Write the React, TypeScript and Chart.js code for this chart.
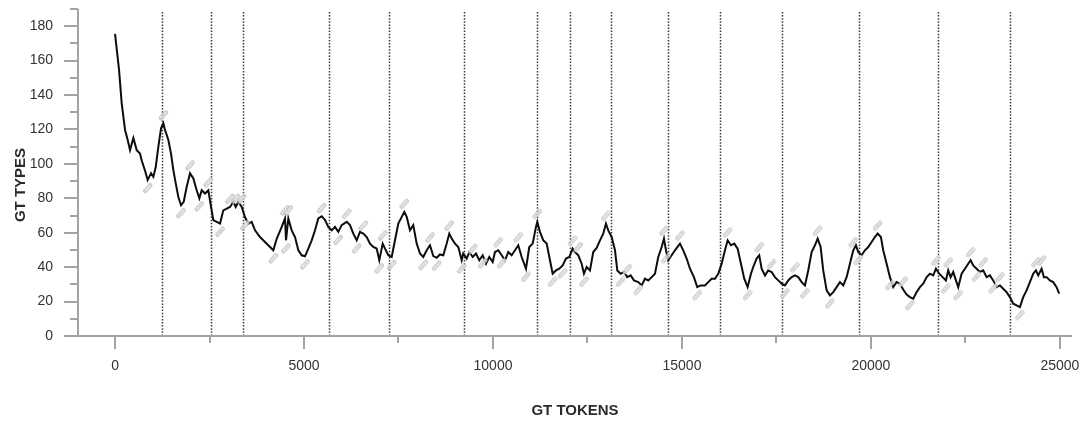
import React, { useEffect, useRef } from 'react';
import { Chart, registerables } from 'chart.js';

Chart.register(...registerables);

// Running count of GT types per window, sampled along the token axis
const tokens = [
  0, 106, 177, 265, 335, 397, 485, 573, 661, 705, 794, 864, 952, 1014, 1076, 1146, 1217, 1278, 1323, 1411,
  1481, 1543, 1605, 1675, 1746, 1817, 1896, 1984, 2072, 2161, 2231, 2293, 2381, 2469, 2540, 2601, 2690, 2778,
  2865, 2955, 3042, 3130, 3193, 3262, 3352, 3439, 3527, 3616, 3704, 3836, 3968, 4101, 4188, 4277, 4410, 4497,
  4524, 4585, 4674, 4762, 4850, 4939, 5026, 5114, 5203, 5291, 5378, 5468, 5556, 5643, 5733, 5820, 5907, 5997,
  6130, 6217, 6304, 6394, 6481, 6569, 6659, 6746, 6833, 6923, 6992, 7082, 7143, 7230, 7320, 7407, 7495, 7585,
  7653, 7717, 7804, 7891, 7981, 8069, 8156, 8246, 8333, 8421, 8510, 8598, 8685, 8775, 8844, 8907, 8995, 9082,
  9172, 9214, 9304, 9373, 9463, 9550, 9638, 9728, 9815, 9902, 9992, 10053, 10140, 10230, 10317, 10405, 10494,
  10582, 10669, 10759, 10873, 10960, 11050, 11137, 11172, 11243, 11331, 11420, 11508, 11579, 11667, 11754,
  11844, 11931, 12019, 12108, 12169, 12257, 12346, 12407, 12479, 12566, 12653, 12743, 12831, 12918, 12989,
  13050, 13140, 13228, 13289, 13378, 13466, 13553, 13643, 13730, 13844, 13934, 14021, 14108, 14198, 14286,
  14373, 14463, 14524, 14577, 14638, 14727, 14815, 14947, 15034, 15124, 15212, 15317, 15405, 15494, 15608,
  15696, 15785, 15873, 15960, 16050, 16138, 16209, 16296, 16384, 16473, 16561, 16648, 16738, 16825, 16886,
  16975, 17045, 17108, 17196, 17283, 17373, 17460, 17548, 17638, 17725, 17812, 17902, 17989, 18077, 18167,
  18254, 18341, 18431, 18519, 18590, 18669, 18738, 18828, 18915, 19003, 19092, 19180, 19267, 19357, 19444,
  19532, 19603, 19664, 19753, 19841, 19929, 20018, 20106, 20177, 20264, 20325, 20415, 20503, 20590, 20680,
  20767, 20854, 20944, 21032, 21119, 21209, 21296, 21384, 21474, 21561, 21648, 21720, 21807, 21897, 21984,
  22045, 22108, 22177, 22249, 22310, 22399, 22487, 22574, 22638, 22706, 22796, 22884, 22971, 23061, 23148,
  23235, 23325, 23413, 23500, 23589, 23677, 23765, 23854, 23942, 24029, 24119, 24206, 24294, 24365, 24426,
  24516, 24577, 24648, 24735, 24823, 24912, 24981,
];

const types = [
  175.6, 154.6, 135, 119.7, 113.9, 108, 115, 108, 106, 102, 96, 90.6, 94.6, 92.5, 98, 110, 120.7, 123.6, 119.7, 113.9,
  106, 96.4, 88.8, 80.8, 76, 78, 86.7, 94.5, 91.5, 84.7, 80, 84.7, 82.8, 84.7, 75, 67.3, 66.3, 65.3,
  73, 74, 75, 78, 75, 78, 75, 69, 65.3, 66.3, 61.4, 57.5, 54.6, 51.7, 49.8, 56.5, 63.4, 68.3,
  55.6, 68.3, 61.4, 57.5, 49.8, 46.9, 46.3, 50.8, 55.6, 61.4, 68.3, 69.6, 67.3, 63.4, 61.4, 63.4, 60.5, 64.4,
  66.3, 64.4, 59.5, 55.6, 60.5, 59.5, 57.5, 53.7, 51.7, 50.8, 44, 53.7, 50.8, 46.9, 45.9, 55.6, 65.3, 69.2,
  72.1, 69.2, 61.4, 64.4, 53.7, 47.9, 45.9, 49.8, 52.7, 46.4, 45.5, 47.4, 46.9, 53.7, 59.5, 56.6, 53.7, 51.7,
  44, 47.9, 45, 48.8, 45.9, 47.9, 44, 46.9, 42, 45.9, 43, 48.8, 49.8, 46.9, 44, 48.8, 46.9,
  49.8, 52.7, 45.9, 39.1, 51.7, 53.7, 63.4, 66.3, 60.5, 55.6, 53.7, 44, 36.2, 38.1, 39.1,
  41, 45, 45.9, 50.8, 48.8, 46.9, 42, 36.2, 40.1, 38.1, 48.8, 51.2, 55.6, 59.5, 65.3,
  61.4, 57.5, 49.8, 38.1, 36.2, 37.2, 34.2, 35.2, 32.3, 31.3, 29.4, 33.3, 32.3, 34.2, 36.2,
  45.9, 51.7, 56.6, 49.8, 44, 46.9, 49.8, 53.7, 49.8, 45, 39.1, 34.2, 28.4, 29.4, 29.4,
  31.3, 33.3, 33.3, 36.2, 42, 49.8, 55.6, 52.7, 53.7, 50.8, 42, 33.3, 28.4, 36.2, 40.1,
  45, 46.9, 39.1, 35.2, 38.1, 37.2, 34.2, 32.3, 30.4, 29.4, 32.3, 34.2, 35.2, 34.2, 31.3,
  29.4, 38.1, 48.8, 52.7, 56.6, 51.7, 38.1, 26.5, 23.6, 25.5, 28.4, 31.3, 29.4, 34.2, 42,
  49.8, 52.7, 48.8, 46.9, 49.8, 51.7, 54.6, 57.5, 59.5, 57.5, 49.8, 42, 34.2, 28.4, 31.3,
  30.4, 27, 24.1, 22.6, 21.7, 25.5, 28.4, 30.4, 34.2, 36.2, 35.2, 39.1, 36.2, 34.2, 32.3,
  38.1, 34.2, 37.2, 32.3, 28.4, 36.2, 39.1, 42, 44, 41, 39.1, 37.2, 38.1, 34.2, 35.2,
  32.3, 28.4, 29.4, 27.5, 25.5, 22.6, 18.8, 17.8, 16.8, 22.6, 26.5, 31.3, 36.2, 38.1, 35.2,
  39.1, 34.2, 34.2, 32.3, 31.3, 28.4, 24.6,
];

// Section boundaries (token positions), drawn as dotted verticals
const boundaryTokens = [1243, 2540, 3386, 5661, 7249, 9233, 11164, 12037, 13122, 14630, 16005, 17646, 19683, 21772, 23677];

// Token positions tagged on the curve: above local peaks, below local troughs
const peakLabelTokens = [
  1278, 1984, 2469, 3042, 3193, 3352, 4497, 4585, 5468, 6130, 6569, 7082, 7653, 8333, 8844, 9463, 10140, 10669,
  11172, 12108, 12257, 12989, 13553, 14524, 14947, 16209, 17045, 17373, 17989, 18590, 19532, 20177, 20854, 21720,
  22045, 22638, 22971, 23413, 24365, 24516,
];
const troughLabelTokens = [
  864, 1746, 2231, 2778, 3439, 4188, 4524, 5026, 5907, 6394, 6992, 7320, 8156, 8510, 9172, 9728, 10230, 10873,
  11579, 11844, 12407, 13378, 13844, 14577, 15405, 16738, 17725, 18254, 18915, 19664, 20503, 21032, 21984, 22310,
  22796, 23235, 23942,
];

// Axis ticks: labelled majors and unlabelled minors
const xTickValues = [0, 2500, 5000, 7500, 10000, 12500, 15000, 17500, 20000, 22500, 25000];
const yTickValues = [0, 10, 20, 30, 40, 50, 60, 70, 80, 90, 100, 110, 120, 130, 140, 150, 160, 170, 180, 190];

const X_TITLE = 'GT TOKENS';
const Y_TITLE = 'GT TYPES';

const FONT = '"Liberation Sans", Arial, sans-serif';
const AXIS_GREY = '#a3a3a3';

const nearestIndex = (t: number) => {
  let best = 0;
  for (let i = 1; i < tokens.length; i++) {
    if (Math.abs(tokens[i] - t) < Math.abs(tokens[best] - t)) best = i;
  }
  return best;
};

const decorPlugin = {
  id: 'decor',
  beforeDatasetsDraw(chart: any) {
    const { ctx, chartArea, scales } = chart;
    const x = scales.x;
    ctx.save();
    ctx.strokeStyle = '#383838';
    ctx.lineWidth = 1.5;
    ctx.setLineDash([1.5, 1.6]);
    for (const b of boundaryTokens) {
      const px = Math.round(x.getPixelForValue(b)) + 0.5;
      ctx.beginPath();
      ctx.moveTo(px, chartArea.top + 3);
      ctx.lineTo(px, chartArea.bottom);
      ctx.stroke();
    }
    ctx.restore();
  },
  afterDatasetsDraw(chart: any) {
    const { ctx } = chart;
    const meta = chart.getDatasetMeta(0);
    const drawTag = (t: number, above: boolean) => {
      const el = meta.data[nearestIndex(t)];
      if (!el) return;
      const cx = el.x;
      const cy = el.y + (above ? -8 : 8);
      ctx.save();
      ctx.translate(cx, cy);
      ctx.rotate(-0.85);
      ctx.fillStyle = 'rgba(185,185,185,0.7)';
      ctx.beginPath();
      ctx.roundRect(-6, -2.3, 12, 4.6, 1.8);
      ctx.fill();
      ctx.fillStyle = '#f0f0f0';
      ctx.font = `bold 4px ${FONT}`;
      ctx.textAlign = 'center';
      ctx.textBaseline = 'middle';
      ctx.fillText(String(t), 0, 0.3);
      ctx.restore();
    };
    peakLabelTokens.forEach((t) => drawTag(t, true));
    troughLabelTokens.forEach((t) => drawTag(t, false));
  },
  afterDraw(chart: any) {
    const { ctx, chartArea, scales } = chart;
    const x = scales.x;
    const y = scales.y;
    const left = chartArea.left;
    const bottom = chartArea.bottom;
    ctx.save();
    ctx.strokeStyle = AXIS_GREY;
    ctx.lineWidth = 2;
    ctx.setLineDash([]);
    // axis lines
    ctx.beginPath();
    ctx.moveTo(left, chartArea.top);
    ctx.lineTo(left, bottom);
    ctx.moveTo(left, bottom);
    ctx.lineTo(chartArea.right, bottom);
    ctx.stroke();
    // y tick marks (major every 20, minor every 10)
    ctx.beginPath();
    for (const tick of y.ticks) {
      const v = tick.value;
      const py = Math.round(y.getPixelForValue(v));
      const len = v % 20 === 0 ? 14 : 8;
      ctx.moveTo(left - len, py);
      ctx.lineTo(left, py);
    }
    // x tick marks (major every 5000, minor every 2500)
    for (const tick of x.ticks) {
      const v = tick.value;
      const px = Math.round(x.getPixelForValue(v));
      const len = v % 5000 === 0 ? 13 : 7;
      ctx.moveTo(px, bottom);
      ctx.lineTo(px, bottom + len);
    }
    ctx.stroke();

    // axis titles
    ctx.fillStyle = '#2b2b2b';
    ctx.font = `bold 15px ${FONT}`;
    ctx.textAlign = 'center';
    ctx.textBaseline = 'middle';
    ctx.fillText(X_TITLE, (chartArea.left + chartArea.right) / 2, 411);
    ctx.translate(21, 185);
    ctx.rotate(-Math.PI / 2);
    ctx.fillText(Y_TITLE, 0, 0);
    ctx.restore();
  },
};

export default function App() {
  const canvasRef = useRef<HTMLCanvasElement | null>(null);

  useEffect(() => {
    const canvas = canvasRef.current;
    if (!canvas) return;
    const points = tokens.map((t, i) => ({ x: t, y: types[i] }));
    const chart = new Chart(canvas, {
      type: 'line',
      data: {
        datasets: [
          {
            data: points,
            borderColor: '#0d0d0d',
            borderWidth: 2,
            pointRadius: 0,
            tension: 0,
            fill: false,
          },
        ],
      },
      options: {
        responsive: false,
        animation: false,
        devicePixelRatio: 1,
        layout: { padding: { top: 9, right: 13, left: 0, bottom: 0 } },
        plugins: {
          legend: { display: false },
          tooltip: { enabled: false },
        },
        scales: {
          x: {
            type: 'linear',
            min: -980,
            max: 25320,
            afterBuildTicks: (s: any) => {
              s.ticks = xTickValues.map((value) => ({ value }));
            },
            afterFit: (s: any) => {
              s.height = 88;
              s.paddingLeft = 0;
              s.paddingRight = 0;
            },
            grid: { display: false, drawTicks: false },
            border: { display: false },
            ticks: {
              autoSkip: false,
              maxRotation: 0,
              padding: 22,
              color: '#333333',
              font: { family: FONT, size: 14 },
              callback: (v: any) => (Number(v) % 5000 === 0 ? String(v) : ''),
            },
          },
          y: {
            type: 'linear',
            min: 0,
            max: 190,
            afterBuildTicks: (s: any) => {
              s.ticks = yTickValues.map((value) => ({ value }));
            },
            afterFit: (s: any) => {
              s.width = 78;
              s.paddingTop = 0;
              s.paddingBottom = 0;
            },
            grid: { display: false, drawTicks: false },
            border: { display: false },
            ticks: {
              autoSkip: false,
              padding: 25,
              color: '#333333',
              font: { family: FONT, size: 14 },
              callback: (v: any) => (Number(v) % 20 === 0 ? String(v) : ''),
            },
          },
        },
      },
      plugins: [decorPlugin],
    });
    return () => chart.destroy();
  }, []);

  return (
    <div style={{ position: 'fixed', left: 0, top: 0, width: 1085, height: 424, background: '#ffffff' }}>
      <canvas ref={canvasRef} width={1085} height={424} style={{ display: 'block' }} />
    </div>
  );
}
